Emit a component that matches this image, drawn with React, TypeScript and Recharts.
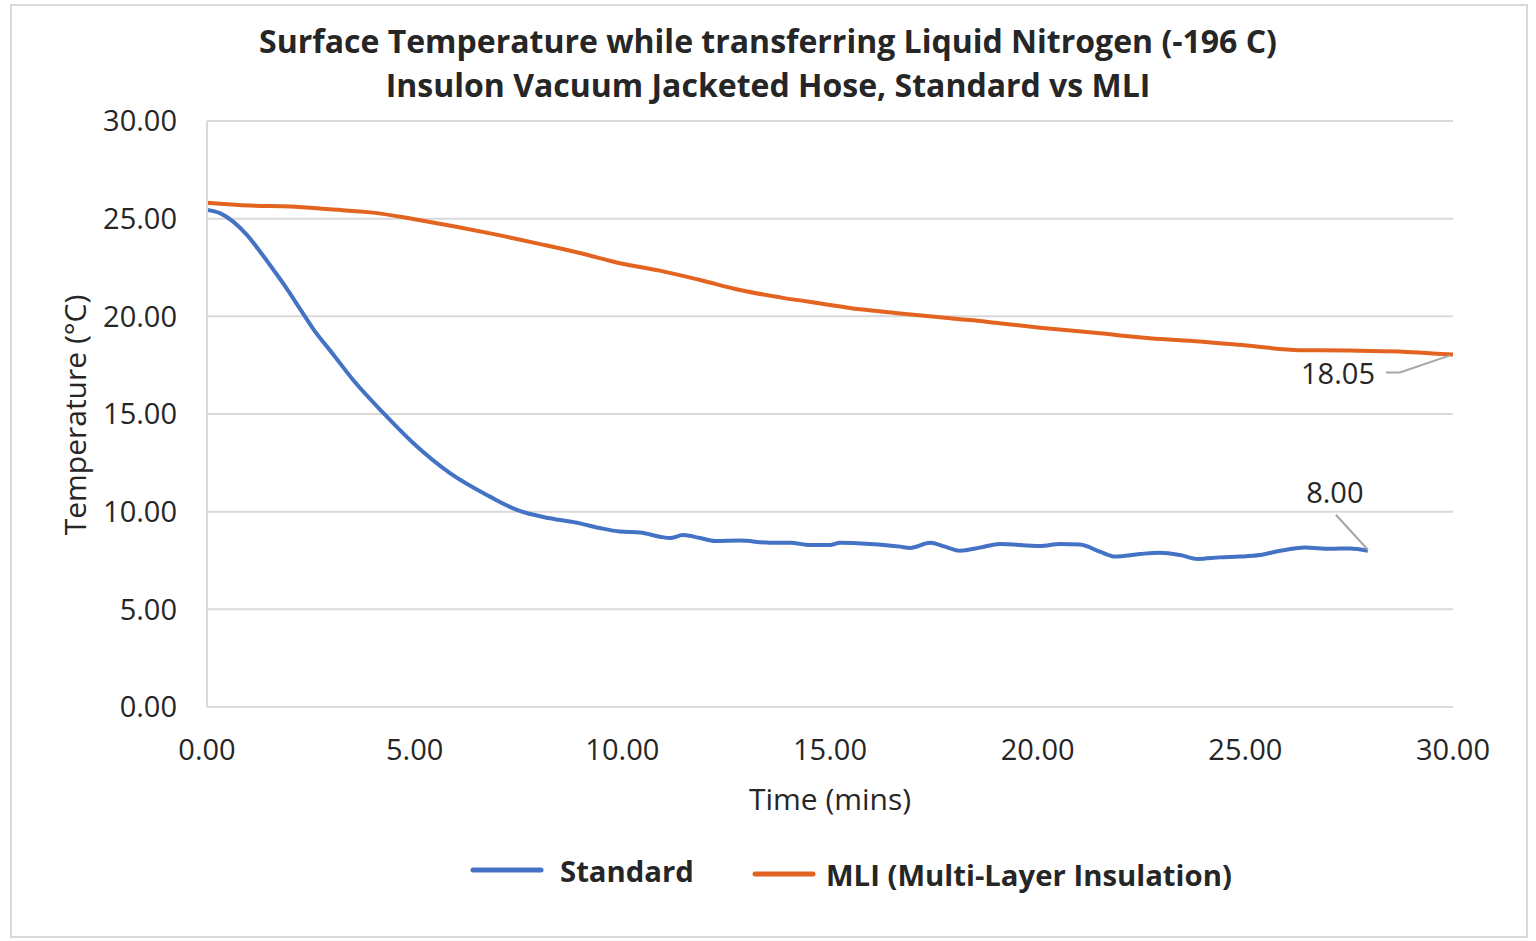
import React from 'react';
import { LineChart, Line, XAxis, YAxis, CartesianGrid, LabelList, Customized } from 'recharts';

// values
const standardTimes = [0, 0.31, 0.63, 0.96, 1.28, 1.6, 1.92, 2.24, 2.56, 3.04, 3.52, 4.25, 4.97, 5.85, 6.81, 7.46, 8.26, 8.98, 9.46, 9.94, 10.43, 10.9, 11.15, 11.46, 11.87, 12.23, 12.83, 13.55, 14.04, 14.52, 15.0, 15.24, 15.96, 16.69, 16.93, 17.41, 17.77, 18.13, 18.61, 19.09, 20.06, 20.54, 21.02, 21.5, 21.86, 22.46, 22.94, 23.43, 23.86, 24.39, 24.87, 25.35, 25.84, 26.44, 27.04, 27.52, 27.95];
const standardTemps = [25.45, 25.28, 24.85, 24.17, 23.31, 22.38, 21.42, 20.38, 19.35, 18.05, 16.74, 15.04, 13.5, 11.97, 10.77, 10.09, 9.66, 9.4, 9.16, 8.98, 8.93, 8.72, 8.65, 8.8, 8.65, 8.5, 8.52, 8.41, 8.41, 8.29, 8.29, 8.41, 8.35, 8.21, 8.14, 8.41, 8.21, 8.0, 8.16, 8.35, 8.24, 8.35, 8.32, 7.95, 7.7, 7.83, 7.9, 7.78, 7.58, 7.66, 7.7, 7.78, 8.0, 8.16, 8.1, 8.12, 8.0];

const mliTimes = [0, 1.03, 2.0, 2.96, 4.0, 5.0, 6.0, 7.0, 8.0, 9.0, 9.94, 10.9, 11.87, 12.83, 13.8, 14.76, 15.72, 16.69, 17.65, 18.37, 19.09, 20.06, 21.5, 22.7, 23.9, 25.1, 26.3, 27.5, 28.7, 29.5, 30.0];
const mliTemps = [25.82, 25.67, 25.62, 25.48, 25.31, 24.97, 24.59, 24.17, 23.71, 23.23, 22.72, 22.34, 21.86, 21.35, 20.97, 20.66, 20.36, 20.15, 19.95, 19.81, 19.64, 19.42, 19.13, 18.88, 18.71, 18.49, 18.27, 18.25, 18.2, 18.1, 18.05];

const axisTicks = [0, 5, 10, 15, 20, 25, 30];

const standardData = standardTimes.map((t, i) => ({ t, v: standardTemps[i] }));
const mliData = mliTimes.map((t, i) => ({ t, v: mliTemps[i] }));

const BLUE = '#4472C4';
const ORANGE = '#E36320';
const GRID = '#d9d9d9';
const TEXT = '#262626';
const FONT = '"Open Sans", sans-serif';

// data label on last point, with a leader line like excel does
const makeEndLabel = (count: number, kind: 'mli' | 'std') => (props: any) => {
  const { x, y, index, value } = props;
  if (index !== count - 1) return null;
  const txt = Number(value).toFixed(2);
  if (kind === 'mli') {
    return (
      <g>
        <polyline points={`${x - 67},${y + 18} ${x - 53},${y + 18} ${x - 3},${y + 1}`} fill="none" stroke="#a6a6a6" strokeWidth={2} />
        <text x={x - 115} y={y + 30} textAnchor="middle" fontSize={29} fill={TEXT} fontFamily={FONT}>{txt}</text>
      </g>
    );
  }
  return (
    <g>
      <line x1={x - 32} y1={y - 36} x2={x} y2={y - 1} stroke="#a6a6a6" strokeWidth={2} />
      <text x={x - 33} y={y - 48} textAnchor="middle" fontSize={29} fill={TEXT} fontFamily={FONT}>{txt}</text>
    </g>
  );
};

const Decorations = () => (
  <g fontFamily={FONT}>
    <rect x={11} y={5} width={1516} height={932} fill="none" stroke={GRID} strokeWidth={2} />
    <text x={768} y={53} textAnchor="middle" fontSize={32} fontWeight={700} fill={TEXT}>
      Surface Temperature while transferring Liquid Nitrogen (-196 C)
    </text>
    <text x={768} y={97} textAnchor="middle" fontSize={32} fontWeight={700} fill={TEXT}>
      Insulon Vacuum Jacketed Hose, Standard vs MLI
    </text>
    <text x={830} y={810} textAnchor="middle" fontSize={30} fill={TEXT}>Time (mins)</text>
    <text transform="translate(86,415) rotate(-90)" textAnchor="middle" fontSize={30} fill={TEXT}>
      Temperature (°C)
    </text>
    {/* legend */}
    <line x1={473} y1={870} x2={541} y2={870} stroke={BLUE} strokeWidth={5} strokeLinecap="round" />
    <text x={560} y={882} fontSize={29.3} fontWeight={700} fill={TEXT}>Standard</text>
    <line x1={755} y1={874} x2={813} y2={874} stroke={ORANGE} strokeWidth={5} strokeLinecap="round" />
    <text x={826} y={886} fontSize={29.3} fontWeight={700} fill={TEXT}>MLI (Multi-Layer Insulation)</text>
  </g>
);

export default function App() {
  return (
    <div style={{ position: 'absolute', left: 0, top: 0, width: 1536, height: 941, background: '#fff' }}>
      <LineChart width={1536} height={941} margin={{ top: 121, right: 83, left: 87, bottom: 174 }}>
        <CartesianGrid vertical={false} stroke={GRID} strokeWidth={2} />
        <XAxis
          type="number"
          dataKey="t"
          domain={[0, 30]}
          ticks={axisTicks}
          tickFormatter={(v) => Number(v).toFixed(2)}
          allowDuplicatedCategory={false}
          height={60}
          tickLine={false}
          tickSize={0}
          tickMargin={32}
          axisLine={{ stroke: GRID, strokeWidth: 2 }}
          tick={{ fontSize: 29, fill: TEXT, fontFamily: FONT }}
        />
        <YAxis
          type="number"
          domain={[0, 30]}
          ticks={axisTicks}
          tickFormatter={(v) => Number(v).toFixed(2)}
          width={120}
          tickLine={false}
          tickSize={0}
          tickMargin={30}
          axisLine={{ stroke: GRID, strokeWidth: 2 }}
          tick={{ fontSize: 29, fill: TEXT, fontFamily: FONT }}
        />
        <Line data={standardData} dataKey="v" name="Standard" type="monotone" stroke={BLUE} strokeWidth={4} dot={false} isAnimationActive={false}>
          <LabelList dataKey="v" content={makeEndLabel(standardData.length, 'std')} />
        </Line>
        <Line data={mliData} dataKey="v" name="MLI (Multi-Layer Insulation)" type="monotone" stroke={ORANGE} strokeWidth={4} dot={false} isAnimationActive={false}>
          <LabelList dataKey="v" content={makeEndLabel(mliData.length, 'mli')} />
        </Line>
        <Customized component={Decorations} />
      </LineChart>
    </div>
  );
}
